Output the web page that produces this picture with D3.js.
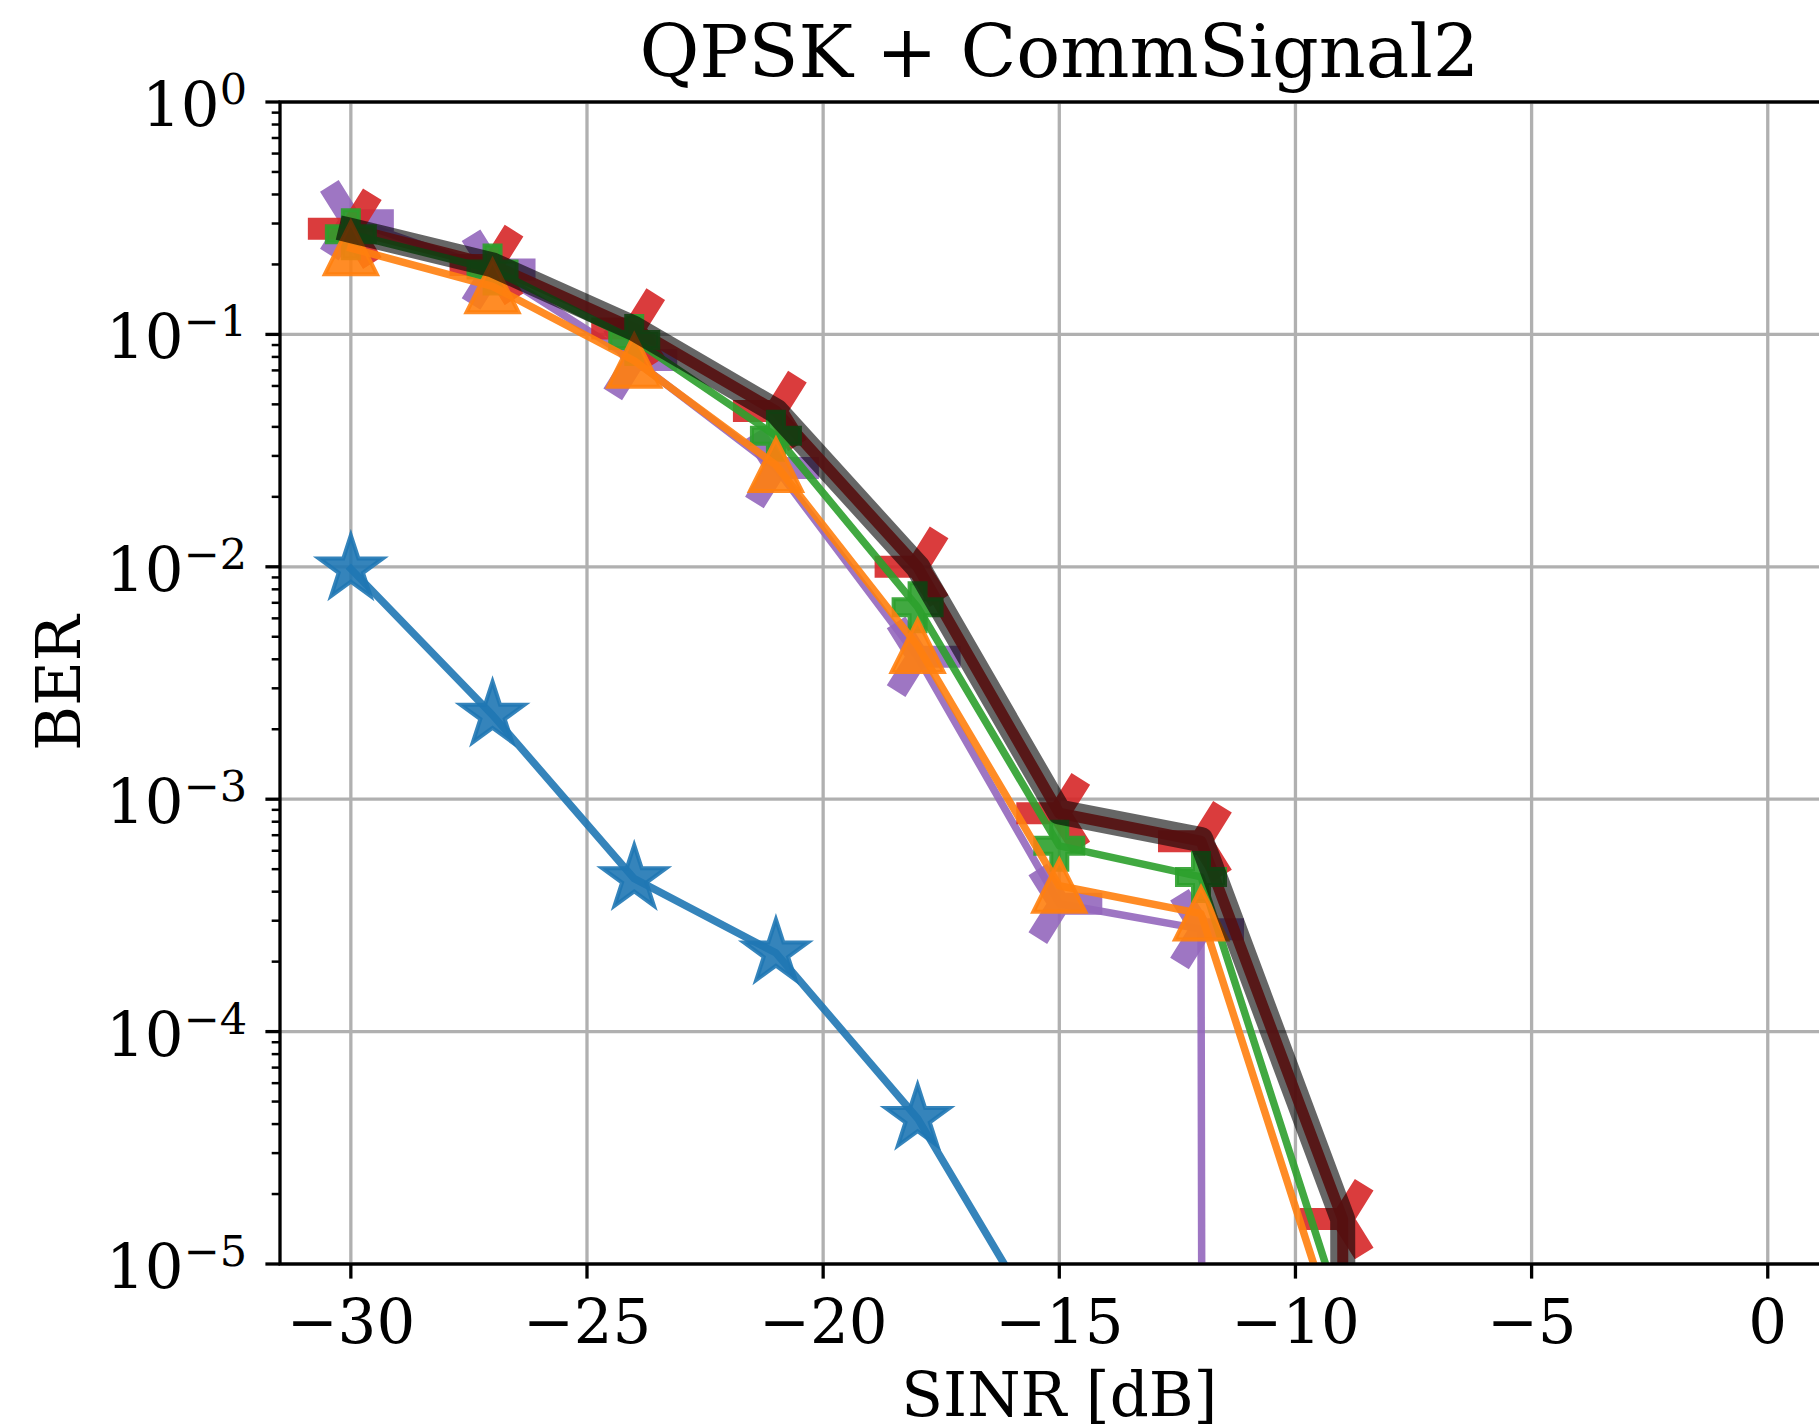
<!DOCTYPE html>
<html><head><meta charset="utf-8">
<script src="https://cdn.jsdelivr.net/npm/d3@7"></script>
<style>html,body{margin:0;padding:0;background:#fff;overflow:hidden}</style>
</head><body><svg id="c" width="1819" height="1427" xmlns="http://www.w3.org/2000/svg"></svg>
<script>
// ---- data ----
const titleText = "QPSK + CommSignal2";
const xLabel = "SINR [dB]";
const yLabel = "BER";
const sinr = [-30, -27, -24, -21, -18, -15, -12, -9, -6];
const xTicks = [-30, -25, -20, -15, -10, -5, 0];
const yTickExp = [0, -1, -2, -3, -4, -5];
const berStar     = [0.0098, 0.0023, 0.000455, 0.000218, 0.0000423, 0.000004];
const berTriRight = [0.31, 0.19, 0.0776, 0.0266, 0.0041, 0.000355, 0.000276, 0];
const berTriLeft  = [0.285, 0.199, 0.106, 0.0468, 0.0100, 0.00087, 0.00066, 0.0000156, 0];
const berPlus     = [0.27, 0.19, 0.0946, 0.0366, 0.0067, 0.00063, 0.000463, 0.0000059, 0];
const berTriUp    = [0.235, 0.161, 0.077, 0.0274, 0.00456, 0.000424, 0.000322, 0.0000041, 0];
const berRef      = [0.28, 0.199, 0.106, 0.0468, 0.0100, 0.00088, 0.00067, 0.0000156, 0];

// ---- layout ----
const L = 280, T = 102, R = 1838.6, B = 1264;
const FONT = "DejaVu Serif";
const FS = 61;
const svg = d3.select("#c");
const x = d3.scaleLinear().domain([-31.5, 1.5]).range([L, R]);
const y = d3.scaleLog().domain([1e-5, 1]).range([B, T]);

svg.append("defs").append("clipPath").attr("id", "plot")
  .append("rect").attr("x", L).attr("y", T).attr("width", R - L).attr("height", B - T);

// grid
const grid = svg.append("g");
grid.selectAll("line.gx").data(xTicks).join("line")
  .attr("x1", d => x(d)).attr("x2", d => x(d)).attr("y1", T).attr("y2", B)
  .attr("stroke", "#b0b0b0").attr("stroke-width", 3.3);
grid.selectAll("line.gy").data(yTickExp).join("line")
  .attr("y1", d => y(Math.pow(10, d))).attr("y2", d => y(Math.pow(10, d))).attr("x1", L).attr("x2", R)
  .attr("stroke", "#b0b0b0").attr("stroke-width", 3.3);

// markers
function markerPath(type) {
  if (type === "star") {
    const r = 33.5, ri = r * 0.381966, p = [];
    for (let i = 0; i < 10; i++) {
      const a = -Math.PI / 2 + i * Math.PI / 5, rr = i % 2 ? ri : r;
      p.push([rr * Math.cos(a), rr * Math.sin(a)]);
    }
    return "M" + p.map(q => q.join(",")).join("L") + "Z";
  }
  if (type === "triUp") { const s = 26; return `M0,${-s}L${-s},${s}L${s},${s}Z`; }
  if (type === "plus") {
    const s = 24, w = s / 3;
    return `M${-w},${-s}L${w},${-s}L${w},${-w}L${s},${-w}L${s},${w}L${w},${w}L${w},${s}L${-w},${s}L${-w},${w}L${-s},${w}L${-s},${-w}L${-w},${-w}Z`;
  }
  const s = 43;
  if (type === "triLeft") return `M0,0L${-s},0M0,0L${0.5 * s},${0.8 * s}M0,0L${0.5 * s},${-0.8 * s}`;
  if (type === "triRight") return `M0,0L${s},0M0,0L${-0.5 * s},${0.8 * s}M0,0L${-0.5 * s},${-0.8 * s}`;
  return "";
}

const series = [
  { vals: berStar,     color: "#1f77b4", lw: 7.5, alpha: 0.9, marker: "star" },
  { vals: berTriRight, color: "#9467bd", lw: 7.5, alpha: 0.9, marker: "triRight" },
  { vals: berTriLeft,  color: "#d62728", lw: 11,  alpha: 0.9, marker: "triLeft" },
  { vals: berPlus,     color: "#2ca02c", lw: 7.5, alpha: 0.9, marker: "plus" },
  { vals: berTriUp,    color: "#ff7f0e", lw: 7.5, alpha: 0.9, marker: "triUp" },
  { vals: berRef,      color: "#000000", lw: 25,  alpha: 0.6, marker: null }
];

const line = d3.line().x(d => x(d[0])).y(d => y(d[1] > 0 ? d[1] : 1e-300));
const plot = svg.append("g").attr("clip-path", "url(#plot)");
series.forEach(s => {
  const pts = s.vals.map((v, i) => [sinr[i], v]);
  const g = plot.append("g");
  g.append("path").attr("d", line(pts)).attr("fill", "none")
    .attr("stroke", s.color).attr("stroke-opacity", s.alpha).attr("stroke-width", s.lw)
    .attr("stroke-linejoin", "round").attr("stroke-linecap", "square");
  if (s.marker) {
    const lineMarker = s.marker === "triLeft" || s.marker === "triRight";
    g.selectAll("path.m").data(pts.filter(d => d[1] > 0)).join("path")
      .attr("class", "m")
      .attr("transform", d => `translate(${x(d[0])},${y(d[1])})`)
      .attr("d", markerPath(s.marker))
      .attr("fill", lineMarker ? "none" : s.color).attr("fill-opacity", s.alpha)
      .attr("stroke", s.color).attr("stroke-opacity", s.alpha)
      .attr("stroke-width", lineMarker ? 22 : 4)
      .attr("stroke-linecap", "butt").attr("stroke-linejoin", "miter");
  }
});

// spines
svg.append("rect").attr("x", L).attr("y", T).attr("width", R - L).attr("height", B - T)
  .attr("fill", "none").attr("stroke", "#000").attr("stroke-width", 3.3);

// x axis
const xAxis = svg.append("g").attr("transform", `translate(0,${B})`)
  .call(d3.axisBottom(x).tickValues(xTicks).tickSize(14.6).offset(0)
    .tickFormat(d => (d < 0 ? "\u2212" + Math.abs(d) : "" + d)));
xAxis.select(".domain").remove();
xAxis.selectAll(".tick line").attr("stroke", "#000").attr("stroke-width", 3.3);
xAxis.selectAll(".tick text").attr("y", 79).attr("dy", null)
  .attr("font-family", FONT).attr("font-size", FS).attr("fill", "#000");

// y axis (minor + major)
const yMajor = yTickExp.map(e => Math.pow(10, e));
const yMinor = [];
for (let e = -5; e < 0; e++) for (let k = 2; k <= 9; k++) yMinor.push(k * Math.pow(10, e));
const yAxisMin = svg.append("g").attr("transform", `translate(${L},0)`)
  .call(d3.axisLeft(y).tickValues(yMinor).tickSize(8.3).offset(0).tickFormat(""));
yAxisMin.select(".domain").remove();
yAxisMin.selectAll(".tick line").attr("stroke", "#000").attr("stroke-width", 2.5);
const yAxis = svg.append("g").attr("transform", `translate(${L},0)`)
  .call(d3.axisLeft(y).tickValues(yMajor).tickSize(14.6).offset(0).tickFormat(""));
yAxis.select(".domain").remove();
yAxis.selectAll(".tick line").attr("stroke", "#000").attr("stroke-width", 3.3);
yAxis.selectAll(".tick text").each(function (d) {
  const e = Math.round(Math.log10(d));
  const t = d3.select(this).attr("x", 247 - L).attr("y", 24).attr("dy", null)
    .attr("text-anchor", "end").attr("font-family", FONT).attr("font-size", FS).attr("fill", "#000");
  t.text(null);
  t.append("tspan").text("10");
  t.append("tspan").attr("font-size", 43).attr("dy", -22).text(e < 0 ? "\u2212" + Math.abs(e) : "" + e);
});

// labels
const cx = (L + R) / 2;
svg.append("text").attr("x", cx).attr("y", 77).attr("text-anchor", "middle")
  .attr("font-family", FONT).attr("font-size", 73).text(titleText);
svg.append("text").attr("x", cx).attr("y", 1416).attr("text-anchor", "middle")
  .attr("font-family", FONT).attr("font-size", FS).text(xLabel);
svg.append("text").attr("transform", `translate(80,${(T + B) / 2}) rotate(-90)`).attr("text-anchor", "middle")
  .attr("font-family", FONT).attr("font-size", FS).text(yLabel);
</script></body></html>
